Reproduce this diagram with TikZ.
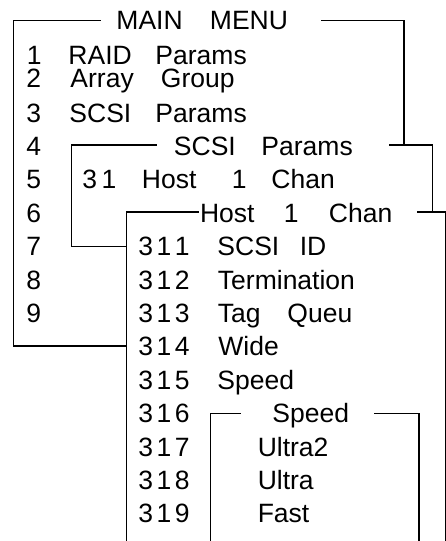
\documentclass[tikz,border=0pt]{standalone}
\usepackage{fontspec}
\setmainfont{Liberation Sans}
\newcommand\placeat[2]{\rlap{\hspace*{#1pt}#2}}
\newcommand\dkern{\kern3.4pt}
\newcommand\numb[3]{#1\dkern#2\dkern#3}
\tikzset{
  txt/.style={anchor=base west, inner sep=0pt, outer sep=0pt, font=\fontsize{26.5}{26}\selectfont},
  frame/.style={line width=1.5pt, line cap=rect, line join=miter}
}
\begin{document}
\begin{tikzpicture}[x=1pt,y=-1pt]
\useasboundingbox (0,0) rectangle (446,541);
% ---- frames ----
% Main menu
\coordinate (mmTL) at (100,20.5);
\coordinate (mmTR) at (321.7,20.5);
\draw[frame] (mmTL) -- (13.5,20.5) -- (13.5,346) -- (126.7,346);
\draw[frame] (mmTR) -- (404,20.5) -- (404,145);
% SCSI Params
\draw[frame] (156.7,145) -- (71.7,145) -- (71.7,246.7) -- (126.7,246.7);
\draw[frame] (390,145) -- (432.5,145) -- (432.5,212);
% Host 1 Chan
\draw[frame] (198,212) -- (126.7,212) -- (126.7,541);
\draw[frame] (418,212) -- (446,212) -- (446,541);
% Speed
\draw[frame] (240,413.3) -- (210.7,413.3) -- (210.7,541);
\draw[frame] (375,413.3) -- (419,413.3) -- (419,541);
% ---- texts ----
\node[txt] (tmain) at (0,29.5) {\placeat{116}{MAIN}\placeat{209.5}{MENU}};
\node[txt] (r1) at (0,64.5) {\placeat{26.5}{1}\placeat{68}{RAID}\placeat{155}{Params}};
\node[txt] (r2) at (0,87) {\placeat{26}{2}\placeat{70}{Array}\placeat{160.5}{Group}};
\node[txt] (r3) at (0,122) {\placeat{26}{3}\placeat{69}{SCSI}\placeat{155}{Params}};
\node[txt] (r4) at (0,155.5) {\placeat{26}{4}\placeat{173.5}{SCSI}\placeat{261}{Params}};
\node[txt] (r5) at (0,188.9) {\placeat{26}{5}\placeat{82}{3\kern4.3pt1}\placeat{141.5}{Host}\placeat{231.5}{1}\placeat{271}{Chan}};
\node[txt] (r6) at (0,222.3) {\placeat{26}{6}\placeat{199.6}{Host}\placeat{283.5}{1}\placeat{328.5}{Chan}};
\node[txt] (r7) at (0,255.7) {\placeat{26}{7}\placeat{138}{\numb311}\placeat{217}{SCSI}\placeat{299.3}{ID}};
\node[txt] (r8) at (0,289.1) {\placeat{26}{8}\placeat{138}{\numb312}\placeat{217.5}{Termination}};
\node[txt] (r9) at (0,322.5) {\placeat{26}{9}\placeat{138}{\numb313}\placeat{217.5}{Tag}\placeat{287}{Queu}};
\node[txt] (r10) at (0,355.9) {\placeat{138}{\numb314}\placeat{218}{Wide}};
\node[txt] (r11) at (0,389.3) {\placeat{138}{\numb315}\placeat{217}{Speed}};
\node[txt] (r12) at (0,422.7) {\placeat{138}{\numb316}\placeat{272}{Speed}};
\node[txt] (r13) at (0,456.1) {\placeat{138}{\numb317}\placeat{257.3}{Ultra2}};
\node[txt] (r14) at (0,489.5) {\placeat{138}{\numb318}\placeat{257.3}{Ultra}};
\node[txt] (r15) at (0,522.9) {\placeat{138}{\numb319}\placeat{257.3}{Fast}};
\end{tikzpicture}
\end{document}
